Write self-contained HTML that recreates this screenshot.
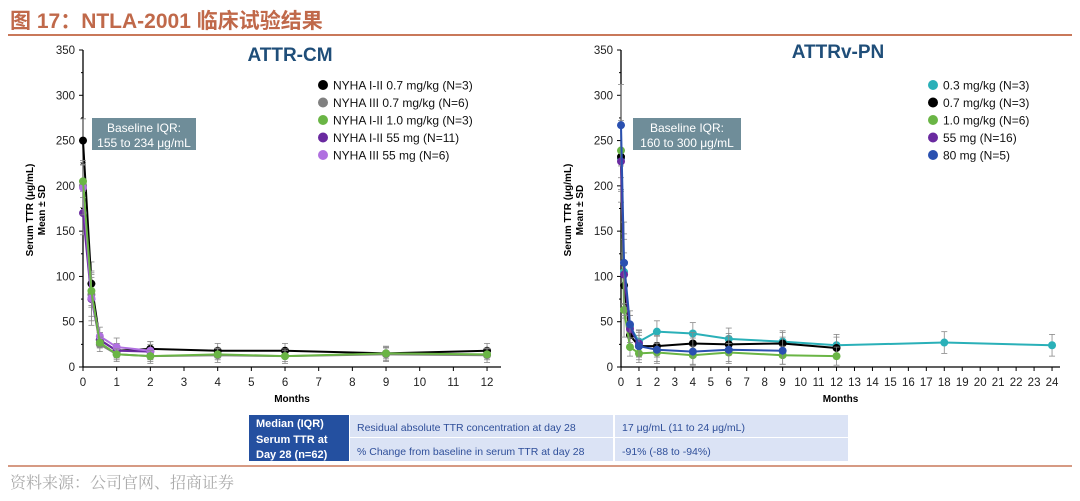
<!DOCTYPE html>
<html><head><meta charset="utf-8"><style>
body{margin:0;width:1080px;height:501px;background:#fff;overflow:hidden;font-family:"Liberation Sans","Noto Sans CJK SC",sans-serif}
svg{position:absolute;left:0;top:0}
</style></head><body>
<svg id="s" width="1080" height="501" viewBox="0 0 1080 501" font-family="Liberation Sans, Noto Sans CJK SC, sans-serif">
<text x="10" y="28" font-size="21" font-weight="bold" fill="#c0694a" font-family="Liberation Sans, Noto Sans CJK SC, sans-serif">图 17：NTLA-2001 临床试验结果</text>
<line x1="8" y1="35" x2="1072" y2="35" stroke="#c9785a" stroke-width="2"/>
<text x="290" y="61" font-size="19" font-weight="bold" fill="#1f4e79" text-anchor="middle">ATTR-CM</text>
<text x="838" y="58" font-size="19" font-weight="bold" fill="#1f4e79" text-anchor="middle">ATTRv-PN</text>
<g id="g"></g>
<rect x="249" y="415" width="100" height="46" fill="#2450a0"/>
<text font-size="11" font-weight="bold" fill="#fff"><tspan x="256" y="427">Median (IQR)</tspan><tspan x="256" y="443">Serum TTR at</tspan><tspan x="256" y="458">Day 28 (n=62)</tspan></text>
<rect x="350" y="415" width="263" height="22" fill="#dbe3f5"/>
<rect x="350" y="438" width="263" height="23" fill="#dbe3f5"/>
<rect x="615" y="415" width="233" height="22" fill="#dbe3f5"/>
<rect x="615" y="438" width="233" height="23" fill="#dbe3f5"/>
<text font-size="10.5" fill="#2f4f9a"><tspan x="357" y="431">Residual absolute TTR concentration at day 28</tspan><tspan x="357" y="455">% Change from baseline in serum TTR at day 28</tspan><tspan x="622" y="431">17 μg/mL (11 to 24 μg/mL)</tspan><tspan x="622" y="455">-91% (-88 to -94%)</tspan></text>
<line x1="8" y1="466" x2="1072" y2="466" stroke="#c9785a" stroke-width="1.5"/>
<text x="10" y="488" font-size="16" fill="#aaa" font-family="Noto Serif CJK SC, serif">资料来源：公司官网、招商证券</text>
</svg>
<script>
const g=document.getElementById('g');let h='';
const Y=v=>367-v*0.9057;
function axes(x0,xe,xs,n,step){
 h+=`<line x1="${x0}" y1="50" x2="${x0}" y2="367" stroke="#000" stroke-width="1.3"/>`;
 h+=`<line x1="${x0}" y1="367" x2="${xe}" y2="367" stroke="#000" stroke-width="1.3"/>`;
 for(let v=0;v<=350;v+=50){h+=`<line x1="${x0-4}" y1="${Y(v)}" x2="${x0}" y2="${Y(v)}" stroke="#000"/><text x="${x0-8}" y="${Y(v)+4}" font-size="11.5" text-anchor="end" fill="#222">${v}</text>`;
 if(v<350) h+=`<line x1="${x0-2}" y1="${Y(v+25)}" x2="${x0}" y2="${Y(v+25)}" stroke="#000"/>`;}
 for(let m=0;m<=n;m++){const x=x0+m*xs;h+=`<line x1="${x}" y1="367" x2="${x}" y2="371" stroke="#000"/><text x="${x}" y="386" font-size="11.5" text-anchor="middle" fill="#222">${m}</text>`;}
 h+=`<text x="${(x0+xe)/2}" y="402" font-size="10" font-weight="bold" text-anchor="middle">Months</text>`;
 h+=`<text transform="translate(${x0-50},210) rotate(-90)" font-size="10" font-weight="bold" text-anchor="middle"><tspan x="0" y="0">Serum TTR (μg/mL)</tspan><tspan x="0" y="12">Mean ± SD</tspan></text>`;
}
axes(83,501,33.67,12);axes(621,1060,17.96,24);
function ser(x0,xs,ms,vs,col,err){
 let p=vs.map((v,i)=>`${x0+ms[i]*xs},${Y(v)}`).join(' ');
 vs.forEach((v,i)=>{const x=x0+ms[i]*xs,e=err*(i<2?3:1);h+=`<line x1="${x}" y1="${Y(v+e)}" x2="${x}" y2="${Y(Math.max(0,v-e))}" stroke="#888" stroke-width="0.8"/><line x1="${x-3}" y1="${Y(v+e)}" x2="${x+3}" y2="${Y(v+e)}" stroke="#888" stroke-width="0.8"/><line x1="${x-3}" y1="${Y(Math.max(0,v-e))}" x2="${x+3}" y2="${Y(Math.max(0,v-e))}" stroke="#888" stroke-width="0.8"/>`;});
 h+=`<polyline points="${p}" fill="none" stroke="${col}" stroke-width="2"/>`;
 vs.forEach((v,i)=>h+=`<circle cx="${x0+ms[i]*xs}" cy="${Y(v)}" r="4" fill="${col}"/>`);
}
const L=[0,0.25,0.5,1,2,4,6,9,12];
ser(83,33.67,L,[250,92,30,18,20,18,18,15,18],'#000',8);
ser(83,33.67,L,[200,80,25,14,12,13,12,14,13],'#808080',8);
ser(83,33.67,L.slice(0,5),[170,75,30,18,17],'#6a2aa0',8);
ser(83,33.67,L.slice(0,5),[198,76,34,22,18],'#b070e0',10);
ser(83,33.67,L,[205,84,27,14,12,14,12,15,14],'#6ab545',6);
const R=[0,0.17,0.5,1,2,4,6,9,12,18,24];
ser(621,17.96,R,[230,105,45,28,39,37,31,28,24,27,24],'#2ab0b8',12);
ser(621,17.96,R,[232,90,35,23,23,26,25,26,21],'#000',12);
ser(621,17.96,R,[239,63,22,15,16,13,16,13,12],'#6ab545',10);
ser(621,17.96,R.slice(0,4),[227,102,42,26],'#6a2aa0',15);
ser(621,17.96,R.slice(0,8),[267,115,47,23,19,17,19,18],'#2a50b0',15);
function leg(x,y,items){items.forEach((it,i)=>{h+=`<circle cx="${x}" cy="${y+i*17.5}" r="5" fill="${it[0]}"/><text x="${x+10}" y="${y+i*17.5+4.5}" font-size="12" fill="#111">${it[1]}</text>`;});}
leg(323,85,[['#000','NYHA  I-II 0.7 mg/kg (N=3)'],['#808080','NYHA  III 0.7 mg/kg (N=6)'],['#6ab545','NYHA  I-II 1.0 mg/kg (N=3)'],['#6a2aa0','NYHA  I-II 55 mg (N=11)'],['#b070e0','NYHA  III 55 mg (N=6)']]);
leg(933,85,[['#2ab0b8','0.3 mg/kg (N=3)'],['#000','0.7 mg/kg (N=3)'],['#6ab545','1.0 mg/kg (N=6)'],['#6a2aa0','55 mg (N=16)'],['#2a50b0','80 mg (N=5)']]);
function box(x,w,t2){h+=`<rect x="${x}" y="118" width="${w}" height="32" fill="#6f8d99"/><text x="${x+w/2}" y="132" font-size="12" fill="#fff" text-anchor="middle">Baseline IQR:</text><text x="${x+w/2}" y="147" font-size="12" fill="#fff" text-anchor="middle">${t2}</text>`;}
box(92,104,'155 to 234 μg/mL');box(633,108,'160 to 300 μg/mL');
g.innerHTML=h;
</script>
</body></html>
